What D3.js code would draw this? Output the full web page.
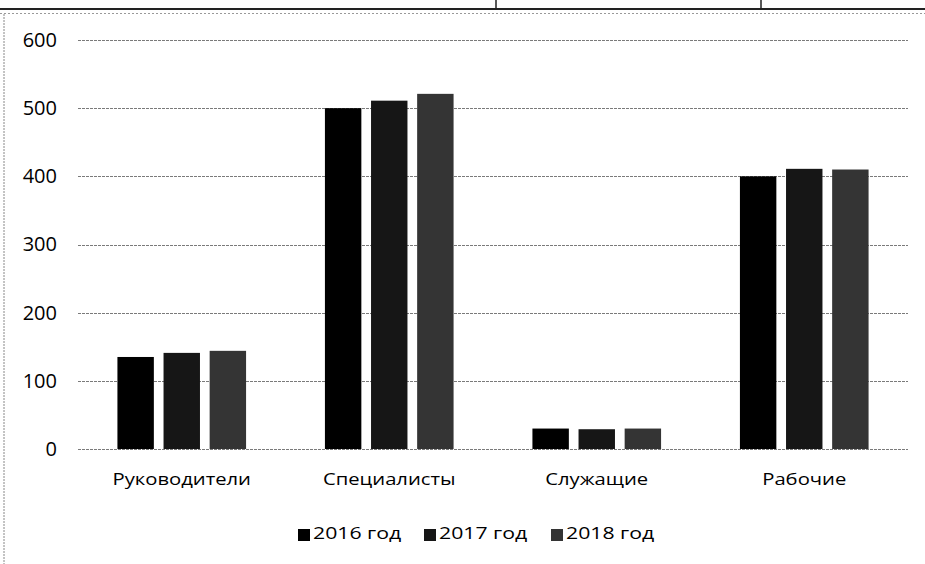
<!DOCTYPE html>
<html>
<head>
<meta charset="utf-8">
<script src="https://cdn.jsdelivr.net/npm/d3@7"></script>
<style>
  body { margin: 0; background: #fff; }
  text { font-family: "Open Sans", "Noto Sans", sans-serif; fill: #000; }
</style>
</head>
<body>
<div id="chart"></div>
<script>
// chart data
const categories = ["Руководители", "Специалисты", "Служащие", "Рабочие"];
const years = ["2016 год", "2017 год", "2018 год"];
const values2016 = [135, 500, 30, 400];
const values2017 = [141, 511, 29, 411];
const values2018 = [144, 521, 30, 410];
const yTicks = [0, 100, 200, 300, 400, 500, 600];

const series = [values2016, values2017, values2018];
const colors = ["#000000", "#161616", "#343434"];

const width = 925, height = 564;
const margin = {top: 40, right: 17, bottom: 115, left: 78};

let svg = d3.select("#chart")
    .append("svg")
    .attr("width", width)
    .attr("height", height);

// scan-like frame bits of the page
svg.append("line").attr("x1", 0).attr("x2", width).attr("y1", 9).attr("y2", 9)
    .attr("stroke", "#222").attr("stroke-width", 2);
svg.append("line").attr("x1", 0).attr("x2", width).attr("y1", 13.5).attr("y2", 13.5)
    .attr("stroke", "#999").attr("stroke-width", 1).attr("stroke-dasharray", "2,2");
[496, 761].forEach(function(xv) {
  svg.append("line").attr("x1", xv).attr("x2", xv).attr("y1", 0).attr("y2", 10)
      .attr("stroke", "#222").attr("stroke-width", 1.5);
});
svg.append("line").attr("x1", 4).attr("x2", 4).attr("y1", 14).attr("y2", height)
    .attr("stroke", "#888").attr("stroke-width", 1).attr("stroke-dasharray", "2,1");

// scales
let x0 = d3.scaleBand()
    .domain(categories)
    .range([margin.left, width - margin.right])
    .paddingInner(0.38)
    .paddingOuter(0.19);

let x1 = d3.scaleBand()
    .domain(years)
    .range([0, x0.bandwidth()])
    .paddingInner(0.21);

let y = d3.scaleLinear()
    .domain([0, 600])
    .range([height - margin.bottom, margin.top]);

// gridlines
svg.append("g")
    .selectAll("line")
    .data(yTicks)
    .enter()
    .append("line")
    .attr("x1", margin.left)
    .attr("x2", width - margin.right)
    .attr("y1", d => Math.round(y(d)) + 0.5)
    .attr("y2", d => Math.round(y(d)) + 0.5)
    .attr("stroke", "#7a7a7a")
    .attr("stroke-width", 1)
    .attr("stroke-dasharray", "3,1");

// y axis labels
let yAxis = svg.append("g")
    .attr("transform", `translate(${margin.left}, 0)`)
    .call(d3.axisLeft(y).tickValues(yTicks).tickSize(0).tickPadding(21));
yAxis.select(".domain").remove();
yAxis.selectAll("text")
    .style("font-family", "\"Open Sans\", sans-serif")
    .style("font-size", "20px")
    .attr("fill", "#000");

// bars
let groups = svg.append("g")
    .selectAll("g")
    .data(categories)
    .enter()
    .append("g")
    .attr("transform", d => `translate(${x0(d)}, 0)`);

groups.selectAll("rect")
    .data((d, i) => years.map((yr, j) => ({year: yr, value: series[j][i], j: j})))
    .enter()
    .append("rect")
    .attr("x", d => x1(d.year))
    .attr("y", d => y(d.value))
    .attr("width", x1.bandwidth())
    .attr("height", d => y(0) - y(d.value))
    .attr("fill", d => colors[d.j]);

// category labels (the source font is wider, so stretch a bit)
let xAxis = svg.append("g")
    .attr("transform", `translate(0, ${y(0)})`)
    .call(d3.axisBottom(x0).tickSize(0).tickPadding(24));
xAxis.select(".domain").remove();
xAxis.selectAll("text")
    .style("font-family", "\"Open Sans\", sans-serif")
    .style("font-size", "17px")
    .attr("fill", "#000")
    .attr("transform", "scale(1.19, 1)");

// legend
let legendX = [298, 424, 551];

let items = svg.append("g")
    .selectAll("g")
    .data(years)
    .enter()
    .append("g")
    .attr("transform", (d, i) => `translate(${legendX[i]}, 0)`);

items.append("rect")
    .attr("x", 0)
    .attr("y", 529)
    .attr("width", 12)
    .attr("height", 12)
    .attr("fill", (d, i) => colors[i]);

items.append("text")
    .attr("transform", "translate(15, 539) scale(1.25, 1)")
    .style("font-size", "17px")
    .text(d => d);
</script>
</body>
</html>
